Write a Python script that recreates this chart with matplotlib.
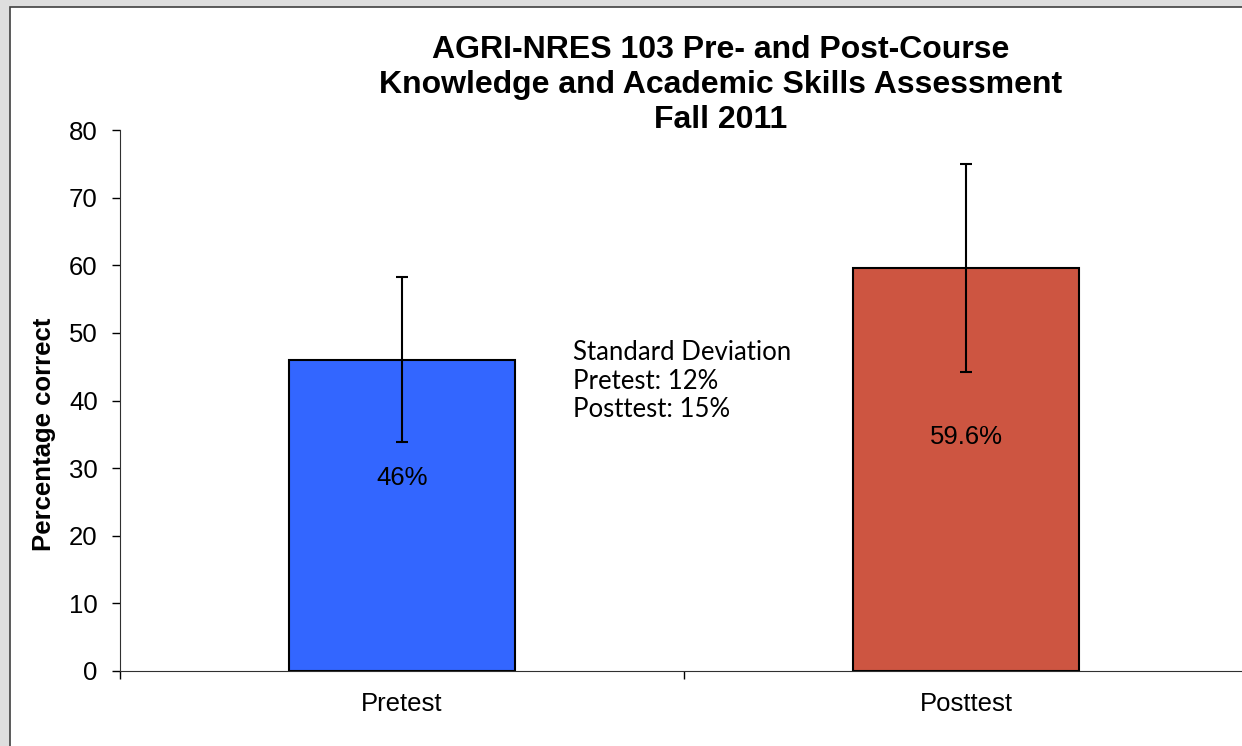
import matplotlib.pyplot as plt
from matplotlib.patches import Rectangle

# data
categories = ["Pretest", "Posttest"]
means = [46.0, 59.6]
sd_bars = [12.2, 15.4]
bar_labels = ["46%", "59.6%"]
bar_colors = ["#3366FF", "#CD5541"]
title = "AGRI-NRES 103 Pre- and Post-Course\nKnowledge and Academic Skills Assessment\nFall 2011"
note = "Standard Deviation\nPretest: 12%\nPosttest: 15%"

W, H = 1242, 746
fig = plt.figure(figsize=(W / 100, H / 100), dpi=100, facecolor="#dedede")

# white chart area with a dark frame, cut off at the right and bottom
fig.patches.append(Rectangle((10 / W, -0.05), 1.1, 1 - 7 / H + 0.05,
                             transform=fig.transFigure, facecolor="white",
                             edgecolor="#404040", linewidth=1.2, zorder=-1))

FS = 18.5
ax = fig.add_axes([120 / W, 75 / H, 1128 / W, 541 / H])
ax.set_zorder(2)
ax.set_facecolor("none")
x = list(range(len(categories)))
ax.bar(x, means, width=0.4, color=bar_colors, edgecolor="black", linewidth=1.5,
       yerr=sd_bars, error_kw=dict(ecolor="black", elinewidth=1.5, capsize=4.5, capthick=1.5))

ax.set_xlim(-0.5, 1.5)
ax.set_ylim(0, 80)
ax.set_yticks(range(0, 81, 10))
ax.tick_params(axis="y", direction="out", length=6, width=1, labelsize=FS, pad=10)
ax.set_xticks([-0.5, 0.5, 1.5])
ax.set_xticklabels([])
ax.tick_params(axis="x", direction="out", length=6, width=1)
for xi, cat in zip(x, categories):
    ax.text(xi, -4.9, cat, ha="center", va="center", fontsize=FS, family="Liberation Sans")
for spine in ["top", "right"]:
    ax.spines[spine].set_visible(False)
ax.spines["left"].set_color("#303030")
ax.spines["bottom"].set_color("#303030")
for lab in ax.get_yticklabels():
    lab.set_family("Liberation Sans")

# value labels inside the bars
label_heights = [28.5, 34.6]
for xi, lab, ly in zip(x, bar_labels, label_heights):
    ax.text(xi, ly, lab, ha="center", va="center", fontsize=FS, family="Liberation Sans")

ax.set_ylabel("Percentage correct", fontsize=FS, fontweight="bold",
              family="Liberation Sans")
ax.yaxis.set_label_coords(-(120 - 56) / 1128, 0.438)

fig.text(721 / W, 1 - 85 / H, title, ha="center", va="center", fontsize=23,
         fontweight="bold", family="Liberation Sans", linespacing=1.2, zorder=3)

ax.text(0.303, 48.9, note, ha="left", va="top", fontsize=FS, family="Lato",
        linespacing=1.17)

fig.savefig("out.png", dpi=100, facecolor=fig.get_facecolor())
